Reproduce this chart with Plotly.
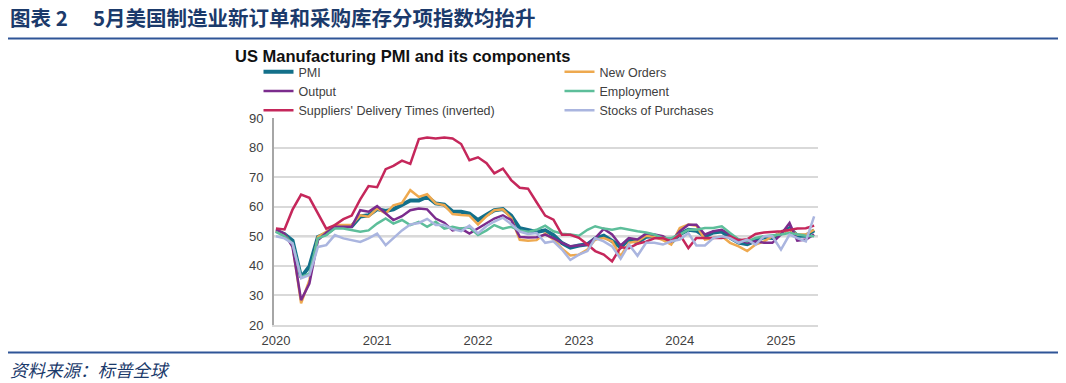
import pandas as pd
import plotly.graph_objects as go

# ---------------- data (monthly, Jan 2020 - May 2025) ----------------
months = pd.date_range("2020-01-01", periods=65, freq="MS")

pmi = [51.9, 50.7, 48.5, 36.1, 39.8, 49.8, 50.9, 53.1, 53.2, 53.4, 56.7, 57.1,
       59.2, 58.6, 59.1, 60.5, 62.1, 62.1, 63.4, 61.1, 60.7, 58.4, 58.3, 57.7,
       55.5, 57.3, 58.8, 59.2, 57.0, 52.7, 52.2, 51.5, 52.0, 50.4, 47.7, 46.2,
       46.9, 47.3, 49.2, 50.2, 48.4, 46.3, 49.0, 47.9, 49.8, 50.0, 49.4, 47.9,
       50.7, 52.2, 51.9, 50.0, 51.3, 51.6, 49.6, 47.9, 47.3, 48.5, 49.7, 49.4,
       51.2, 52.7, 50.2, 50.2, 52.0]

new_orders = [52.0, 50.7, 47.0, 27.3, 35.2, 49.8, 51.5, 53.8, 53.8, 53.8, 57.1, 56.6,
              59.4, 57.7, 60.5, 61.3, 65.6, 63.3, 64.2, 61.1, 60.5, 57.5, 57.2, 57.0,
              54.0, 56.8, 58.8, 59.1, 56.2, 48.8, 48.5, 48.7, 50.9, 48.9, 45.8, 43.5,
              43.8, 45.5, 48.9, 49.4, 48.3, 43.3, 47.8, 48.3, 50.2, 49.8, 48.7, 47.2,
              52.8, 54.0, 53.6, 48.9, 49.4, 50.0, 47.8, 46.6, 45.0, 47.2, 48.3, 50.0,
              51.1, 52.2, 50.6, 50.6, 52.2]

output = [52.3, 50.9, 46.4, 28.4, 34.0, 48.7, 51.2, 53.2, 53.2, 53.2, 58.8, 58.3,
          60.2, 57.7, 55.5, 56.8, 58.8, 59.4, 59.1, 56.0, 54.6, 52.0, 52.6, 50.9,
          52.6, 54.3, 56.0, 57.1, 55.5, 49.8, 49.6, 49.7, 50.6, 49.4, 47.8, 46.6,
          46.9, 47.2, 49.4, 52.5, 50.6, 46.9, 49.4, 48.9, 50.9, 50.6, 50.0, 48.3,
          51.7, 53.9, 53.9, 50.6, 51.7, 52.2, 50.6, 48.9, 47.8, 48.3, 47.8, 47.8,
          50.6, 54.5, 48.5, 48.9, 50.6]

employment = [51.5, 50.0, 47.6, 36.3, 37.4, 49.3, 50.4, 52.6, 52.6, 52.0, 51.5, 52.0,
              54.3, 56.0, 54.3, 55.5, 53.8, 54.9, 53.2, 54.9, 52.6, 53.2, 52.6, 53.0,
              50.4, 52.0, 53.8, 52.6, 53.2, 52.0, 51.5, 52.2, 53.6, 51.7, 50.9, 50.6,
              50.2, 52.2, 53.4, 52.6, 52.2, 52.8, 52.2, 51.7, 51.3, 50.6, 49.4, 49.4,
              50.6, 52.2, 52.2, 52.8, 52.8, 53.4, 51.1, 48.9, 48.3, 49.4, 50.0, 50.2,
              50.6, 51.1, 50.6, 50.2, 50.0]

suppliers = [52.6, 52.3, 59.0, 64.1, 63.0, 57.5, 52.6, 53.8, 55.8, 57.0, 62.5, 67.0,
             66.6, 72.7, 73.8, 75.6, 74.5, 82.9, 83.4, 83.1, 83.4, 83.1, 81.2, 75.7,
             76.7, 74.7, 71.3, 72.9, 69.0, 66.4, 66.1, 61.5, 57.0, 55.6, 50.5, 50.5,
             49.5, 47.2, 45.0, 43.8, 41.5, 46.3, 46.0, 47.5, 48.2, 49.3, 49.4, 48.3,
             50.6, 46.0, 49.4, 49.4, 49.4, 49.4, 50.0, 48.7, 49.0, 50.8, 51.3, 51.4,
             51.7, 52.1, 52.6, 52.7, 53.6]

stocks = [50.0, 49.3, 47.6, 35.8, 36.9, 46.4, 47.0, 50.4, 49.3, 48.7, 48.1, 49.3,
          50.9, 47.0, 49.3, 52.0, 54.0, 54.5, 55.9, 53.8, 53.8, 52.4, 51.7, 53.6,
          51.0, 53.5, 55.0, 56.3, 54.1, 51.6, 50.8, 51.1, 47.8, 48.3, 45.5, 42.0,
          43.8, 45.0, 49.4, 48.3, 46.6, 42.4, 47.2, 43.4, 47.8, 47.8, 47.2, 48.3,
          48.9, 51.1, 46.9, 46.9, 49.4, 50.0, 49.4, 47.8, 48.9, 47.2, 50.0, 50.0,
          45.5, 50.6, 49.4, 48.3, 56.7]

series_names = ["PMI", "New Orders", "Output", "Employment",
                "Suppliers' Delivery Times (inverted)", "Stocks of Purchases"]
year_ticks = pd.date_range("2020-01-01", periods=6, freq="YS")
year_labels = [str(d.year) for d in year_ticks]
BASELINE = 50

# ---------------- geometry ----------------
W, H = 1066, 383
PL, PR, PT, PB = 274, 818, 118, 325   # plot area in pixels


def px(x):
    return (x - PL) / (PR - PL)


def py(y):
    return (PB - y) / (PB - PT)


colors = ["#13708A", "#EEA94F", "#7B2C8D", "#5DBE9A", "#C5275B", "#AAB5DF"]
widths = [4, 2.5, 2.5, 2.5, 2.5, 2.5]
legend_of = ["legend", "legend2", "legend", "legend2", "legend", "legend2"]
values = [pmi, new_orders, output, employment, suppliers, stocks]

fig = go.Figure()
for name, vals, c, w, lg in zip(series_names, values, colors, widths, legend_of):
    fig.add_trace(go.Scatter(x=months, y=vals, mode="lines", name=name,
                             line=dict(color=c, width=w), legend=lg))

FONT = "Liberation Sans, Arial, sans-serif"
CJK = "Noto Sans CJK SC"
LEG_FONT = dict(family=FONT, size=12.5, color="#404040")

fig.update_layout(
    width=W, height=H,
    margin=dict(l=PL, r=W - PR, t=PT, b=H - PB, pad=0),
    paper_bgcolor="white", plot_bgcolor="white",
    template="none",
    font=dict(family=FONT, size=13, color="#404040"),
    showlegend=True,
    legend=dict(x=px(258.5), y=py(57), xanchor="left", yanchor="top",
                orientation="v", bgcolor="rgba(0,0,0,0)", font=LEG_FONT),
    legend2=dict(x=px(559.5), y=py(57), xanchor="left", yanchor="top",
                 orientation="v", bgcolor="rgba(0,0,0,0)", font=LEG_FONT),
    xaxis=dict(type="date", range=["2019-12-25", "2025-05-15"],
               tickvals=year_ticks, ticktext=year_labels, ticks="",
               showgrid=False, zeroline=False, showline=True,
               linecolor="#D9D9D9", linewidth=1.5, ticklabelstandoff=3,
               tickfont=dict(family=FONT, size=13, color="#404040")),
    yaxis=dict(range=[20, 90], tick0=20, dtick=10, ticks="",
               showgrid=True, gridcolor="#D9D9D9", gridwidth=1.5,
               zeroline=False, showline=True, linecolor="#A6A6A6", linewidth=2,
               ticklabelstandoff=6,
               tickfont=dict(family=FONT, size=13, color="#404040")),
)

fig.add_shape(type="line", xref="paper", x0=0, x1=1, yref="y", y0=BASELINE, y1=BASELINE,
              line=dict(color="#A6A6A6", width=2), layer="below")

# header / footer rules
RULE = "#2F5597"
fig.add_shape(type="line", xref="paper", yref="paper", x0=px(8), x1=px(1058),
              y0=py(38.5), y1=py(38.5), line=dict(color=RULE, width=2))
fig.add_shape(type="line", xref="paper", yref="paper", x0=px(8), x1=px(1058),
              y0=py(352.5), y1=py(352.5), line=dict(color=RULE, width=2))

HEAD = dict(family=CJK, size=20.5, color="#1B3A6B")
fig.add_annotation(xref="paper", yref="paper", x=px(8), y=py(17), xanchor="left",
                   yanchor="middle", showarrow=False, text="<b>图表 2</b>", font=HEAD)
fig.add_annotation(xref="paper", yref="paper", x=px(91), y=py(17), xanchor="left",
                   yanchor="middle", showarrow=False,
                   text="<b>5月美国制造业新订单和采购库存分项指数均抬升</b>", font=HEAD)
fig.add_annotation(xref="paper", yref="paper", x=px(233), y=py(56), xanchor="left",
                   yanchor="middle", showarrow=False,
                   text="<b>US Manufacturing PMI and its components</b>",
                   font=dict(family=FONT, size=16.5, color="#111111"))
fig.add_annotation(xref="paper", yref="paper", x=px(8), y=py(369), xanchor="left",
                   yanchor="middle", showarrow=False,
                   text="<i>资料来源：标普全球</i>",
                   font=dict(family=CJK, size=17.5, color="#1B3A6B"))

# remove the default 8px page margin so the figure fills the window exactly
fig.write_html("out.html",
               config={"displayModeBar": False},
               post_script="document.body.style.margin='0';"
                           "document.body.style.overflow='hidden';")
